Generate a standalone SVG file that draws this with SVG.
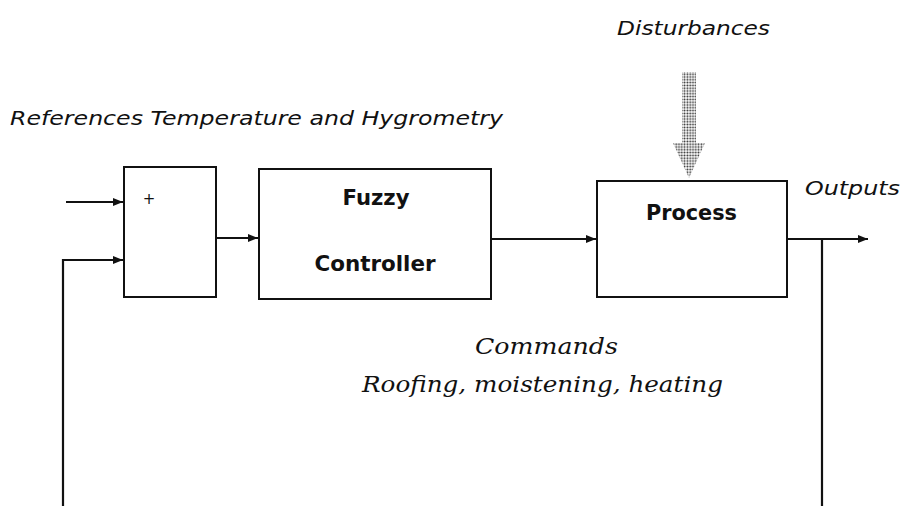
<svg xmlns="http://www.w3.org/2000/svg" width="906" height="506" viewBox="0 0 906 506">
  <style>
    .box { fill: #fff; stroke: #111; stroke-width: 2; }
    .wire { fill: none; stroke: #111; stroke-width: 2.2; }
    .title { font-family: "DejaVu Sans", Verdana, sans-serif; font-weight: bold; font-size: 21px; fill: #111; }
    .label { font-family: "DejaVu Sans", Verdana, sans-serif; font-style: italic; font-size: 20px; fill: #111; }
    .note { font-family: "DejaVu Serif", "Liberation Serif", serif; font-style: italic; font-size: 23px; fill: #111; }
    .plus { font-family: "DejaVu Sans", sans-serif; font-size: 15px; fill: #111; }
  </style>
  <defs>
    <marker id="arrow" viewBox="0 0 10 10" refX="10" refY="5" markerWidth="10" markerHeight="10" markerUnits="userSpaceOnUse" orient="auto">
      <path d="M0,1 L10,5 L0,9 Z" fill="#111"/>
    </marker>
    <pattern id="dots" width="2.8" height="2.8" patternUnits="userSpaceOnUse">
      <circle cx="1.4" cy="1.4" r="0.95" fill="#2a2a2a"/>
    </pattern>
  </defs>
  <rect width="906" height="506" fill="#fff"/>

  <!-- free labels -->
  <text class="label" x="617" y="35" textLength="153" lengthAdjust="spacingAndGlyphs">Disturbances</text>
  <text class="label" x="10" y="125" textLength="493" lengthAdjust="spacingAndGlyphs">References Temperature and Hygrometry</text>
  <text class="label" x="805" y="195" textLength="95" lengthAdjust="spacingAndGlyphs">Outputs</text>
  <text class="note" x="475" y="354" textLength="143" lengthAdjust="spacingAndGlyphs">Commands</text>
  <text class="note" x="362" y="392" textLength="361" lengthAdjust="spacingAndGlyphs">Roofing, moistening, heating</text>

  <!-- disturbance input (dotted block arrow) -->
  <path d="M682,72 L696,72 L696,143 L705,143 L689,178 L673,143 L682,143 Z" fill="url(#dots)"/>

  <!-- connectors -->
  <g id="connectors">
    <line class="wire" x1="66" y1="202" x2="123" y2="202" marker-end="url(#arrow)"/>
    <polyline class="wire" points="63,506 63,260 123,260" marker-end="url(#arrow)"/>
    <line class="wire" x1="216" y1="238" x2="258" y2="238" marker-end="url(#arrow)"/>
    <line class="wire" x1="491" y1="239" x2="596" y2="239" marker-end="url(#arrow)"/>
    <line class="wire" x1="787" y1="239" x2="868" y2="239" marker-end="url(#arrow)"/>
    <line class="wire" x1="822" y1="239" x2="822" y2="506"/>
  </g>

  <!-- summing junction -->
  <g id="sum">
    <rect class="box" x="124" y="167" width="92" height="130"/>
    <text class="plus" x="149" y="204" text-anchor="middle">+</text>
  </g>

  <!-- fuzzy controller -->
  <g id="fuzzy-controller">
    <rect class="box" x="259" y="169" width="232" height="130"/>
    <text class="title" x="376" y="205" text-anchor="middle" textLength="67" lengthAdjust="spacingAndGlyphs">Fuzzy</text>
    <text class="title" x="375" y="271" text-anchor="middle" textLength="121" lengthAdjust="spacingAndGlyphs">Controller</text>
  </g>

  <!-- process -->
  <g id="process">
    <rect class="box" x="597" y="181" width="190" height="116"/>
    <text class="title" x="691.5" y="220" text-anchor="middle" textLength="91" lengthAdjust="spacingAndGlyphs">Process</text>
  </g>
</svg>
